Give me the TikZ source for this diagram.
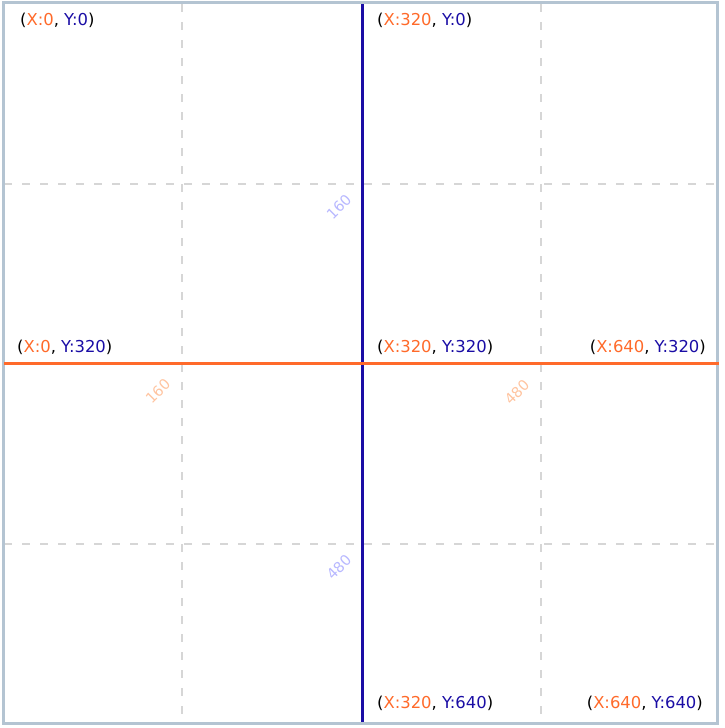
\documentclass[tikz,border=0pt]{standalone}
\usepackage{fontspec}
\setmainfont{DejaVu Sans}
\usepackage{tikz}
\usetikzlibrary{positioning}
\usepackage{xcolor}
\definecolor{xorange}{HTML}{FF6A2A}
\definecolor{yblue}{HTML}{1A0DA5}
\definecolor{framegray}{HTML}{B4C4D2}
\definecolor{gridgray}{HTML}{D6D6D6}
\definecolor{xlight}{HTML}{FFC4A0}
\definecolor{ylight}{HTML}{B8B8FF}
\newcommand{\xylabel}[2]{(\textcolor{xorange}{X:#1}, \textcolor{yblue}{Y:#2})}

\begin{document}
\begin{tikzpicture}[x=1pt, y=-1pt,
    gridline/.style={gridgray, line width=1.5pt, dash pattern=on 8pt off 10pt},
    poslabel/.style={font=\fontsize{16.4}{19}\selectfont, inner sep=0pt},
    ticklabel/.style={font=\fontsize{14.5}{17}\selectfont, inner sep=0pt, rotate=45}]
    \useasboundingbox (0,0) rectangle (724,728);

    % 网格
    \draw[gridline] (182,4) -- (182,722);
    \draw[gridline] (541,4) -- (541,722);
    \draw[gridline] (4,184) -- (716,184);
    \draw[gridline] (4,544) -- (716,544);

    % 外框
    \draw[framegray, line width=3pt] (3,2.5) rectangle (717.5,723.5);

    % 坐标轴
    \coordinate (ytop) at (362,4);
    \coordinate (ybot) at (362,722);
    \coordinate (xleft) at (4,363);
    \coordinate (xright) at (719,363);
    \draw[yblue, line width=3pt] (ytop) -- (ybot);
    \draw[xorange, line width=3pt] (xleft) -- (xright);

    % 刻度
    \node[ticklabel, ylight] (y160) at (339,207) {160};
    \node[ticklabel, ylight] (y480) at (339,567) {480};
    \node[ticklabel, xlight] (x160) at (158,391) {160};
    \node[ticklabel, xlight] (x480) at (517,392) {480};

    % 坐标标注
    \node[poslabel, anchor=west] (p00) at (20,20) {\xylabel{0}{0}};
    \node[poslabel, anchor=west] (p10) at (377,20) {\xylabel{320}{0}};
    \node[poslabel, anchor=west] (p01) at (17,347) {\xylabel{0}{320}};
    \node[poslabel, anchor=west] (p11) at (377,347) {\xylabel{320}{320}};
    \node[poslabel, anchor=east] (p21) at (706,347) {\xylabel{640}{320}};
    \node[poslabel, anchor=west] (p12) at (377,703) {\xylabel{320}{640}};
    \node[poslabel, anchor=east] (p22) at (703,703) {\xylabel{640}{640}};
\end{tikzpicture}
\end{document}
